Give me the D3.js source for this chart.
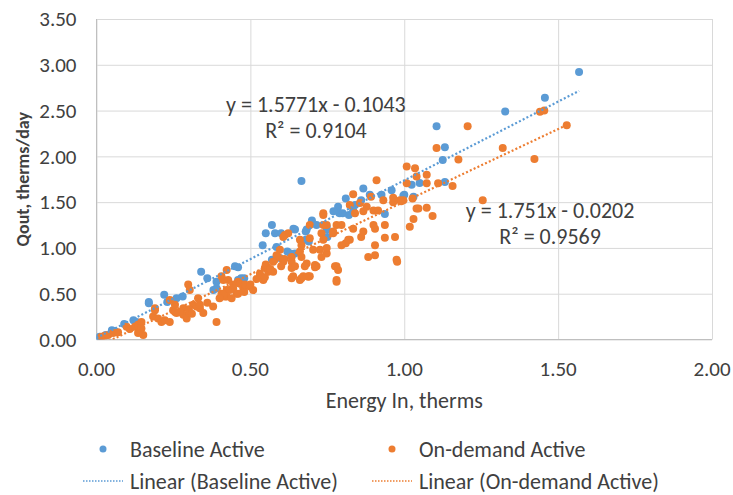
<!DOCTYPE html>
<html><head><meta charset="utf-8">
<script src="https://cdn.jsdelivr.net/npm/d3@7"></script>
<style>
html,body{margin:0;padding:0;background:#fff;}
svg text{font-family:"Carlito","Lato","Open Sans",sans-serif;fill:#404040;}
</style></head>
<body><svg id="c" width="733" height="495"></svg>
<script>
// ---- data ----
const xTicks = [0, 0.5, 1.0, 1.5, 2.0];
const yTicks = [0, 0.5, 1.0, 1.5, 2.0, 2.5, 3.0, 3.5];
const seriesNames = ["Baseline Active", "On-demand Active"];
const trendNames = ["Linear (Baseline Active)", "Linear (On-demand Active)"];
const baseline = [
[0.00,0.01],[0.01,0.03],[0.03,0.05],[0.05,0.10],[0.06,0.09],[0.09,0.17],[0.12,0.21],[0.13,0.19],
[0.17,0.41],[0.17,0.395],[0.22,0.49],[0.23,0.41],[0.26,0.45],[0.28,0.47],[0.34,0.74],[0.36,0.67],
[0.39,0.63],[0.38,0.54],[0.39,0.56],[0.45,0.80],[0.46,0.79],[0.46,0.65],[0.47,0.67],[0.48,0.67],
[0.54,1.03],[0.55,1.16],[0.57,1.25],[0.58,1.16],[0.585,1.01],[0.60,1.16],[0.57,0.87],[0.596,0.89],
[0.62,0.96],[0.64,1.21],[0.645,0.94],[0.645,1.20],[0.63,0.94],[0.68,1.18],[0.68,1.09],[0.69,1.07],
[0.683,1.20],[0.666,1.73],[0.70,1.30],[0.715,1.25],[0.75,1.12],[0.748,1.20],[0.748,1.23],[0.785,1.45],
[0.79,1.38],[0.80,1.38],[0.82,1.36],[0.81,1.54],[0.834,1.41],[0.77,1.40],[0.84,1.47],[0.86,1.52],
[0.867,1.65],[0.888,1.58],[0.926,1.58],[0.937,1.37],[0.959,1.63],[0.997,1.57],[1.03,1.56],[1.00,1.58],
[1.024,1.69],[1.05,1.71],[1.132,1.72],[1.125,1.96],[1.132,2.10],[1.105,2.33],[1.328,2.49],[1.457,2.64],
[1.568,2.92]
];
const ondemand = [
[0.016,0.03],[0.027,0.04],[0.038,0.05],[0.054,0.07],[0.07,0.08],[0.098,0.14],[0.108,0.115],[0.125,0.14],
[0.135,0.16],[0.141,0.10],[0.152,0.05],[0.146,0.19],[0.146,0.12],[0.135,0.07],[0.184,0.25],[0.19,0.32],
[0.19,0.34],[0.20,0.23],[0.211,0.19],[0.222,0.21],[0.238,0.19],[0.238,0.43],[0.249,0.32],[0.255,0.38],
[0.26,0.29],[0.255,0.30],[0.282,0.34],[0.282,0.27],[0.293,0.23],[0.303,0.29],[0.298,0.60],[0.303,0.54],
[0.314,0.38],[0.325,0.36],[0.336,0.34],[0.347,0.29],[0.336,0.38],[0.379,0.36],[0.39,0.19],[0.406,0.50],
[0.417,0.47],[0.423,0.54],[0.423,0.76],[0.428,0.65],[0.444,0.56],[0.455,0.50],[0.46,0.63],[0.477,0.56],
[0.412,0.65],[0.433,0.54],[0.444,0.60],[0.466,0.61],[0.482,0.60],[0.498,0.58],[0.509,0.54],[0.423,0.47],
[0.46,0.50],[0.412,0.49],[0.439,0.45],[0.406,0.69],[0.40,0.45],[0.36,0.40],[0.33,0.45],[0.30,0.33],
[0.27,0.30],[0.31,0.28],[0.50,0.60],[0.52,0.66],[0.48,0.52],
[0.531,0.70],[0.542,0.65],[0.547,0.78],[0.558,0.74],[0.574,0.74],[0.59,0.90],[0.596,0.98],[0.607,0.85],
[0.612,1.14],[0.623,1.16],[0.607,1.12],[0.634,0.85],[0.634,0.78],[0.634,0.67],[0.661,0.65],[0.661,1.09],
[0.666,1.03],[0.666,0.90],[0.683,0.83],[0.688,0.69],[0.693,1.25],[0.715,0.80],[0.737,1.36],[0.737,1.38],
[0.748,1.25],[0.726,0.98],[0.748,0.94],[0.769,1.16],[0.731,1.16],[0.78,0.80],[0.78,0.63],[0.81,1.05],
[0.823,1.09],[0.834,1.21],[0.531,0.72],[0.547,0.68],[0.553,0.795],[0.574,0.85],[0.585,0.92],[0.60,0.80],
[0.61,0.88],[0.55,0.82],[0.565,0.77],[0.666,0.67],[0.688,0.686],[0.693,1.105],[0.71,0.813],
[0.661,0.96],[0.634,0.90],[0.645,0.80],[0.677,0.80],[0.71,0.79],[0.672,0.69],[0.693,0.69],[0.639,0.69],
[0.775,0.80],[0.785,0.76],[0.78,0.65],[0.704,0.98],[0.731,0.90],[0.748,1.00],[0.737,1.09],[0.796,1.03],
[0.818,1.09],[0.737,1.25],[0.78,1.25],[0.796,1.25],[0.769,1.18],[0.86,1.12],[0.90,1.25],[0.905,1.21],
[0.937,1.25],[0.883,0.90],[0.905,0.92],[0.905,1.03],[0.975,0.87],[0.97,1.12],[0.937,1.11],[0.867,1.18],
[0.834,1.585],[0.823,1.47],[0.856,1.49],[0.878,1.45],[0.90,1.41],[0.915,1.41],[0.867,1.40],[0.84,1.38],
[0.964,1.50],[0.986,1.52],[1.04,1.43],[1.018,1.23],[0.91,1.74],[1.008,1.705],[1.008,1.89],[1.04,1.78],
[1.035,1.87],[1.073,1.80],[1.073,1.705],[1.11,1.705],[1.157,1.676],[0.997,1.52],[1.027,1.54],[1.046,1.43],
[1.073,1.44],[1.092,1.35],[1.03,1.315],[0.977,0.85],[1.176,1.967],[1.105,2.09],[1.206,2.33],
[1.255,1.52],[1.32,2.09],[1.423,1.97],[1.441,2.487],[1.455,2.50],[1.528,2.34],[0.932,1.52],[0.892,1.56],
[0.964,1.548],[0.99,1.51]
];
// trendlines as drawn (slope, intercept)
const trendBaseline = [1.72, 0.018];
const trendOndemand = [1.586, -0.081];
const eqBaseline = ["y = 1.5771x - 0.1043", "R² = 0.9104"];
const eqOndemand = ["y = 1.751x - 0.0202", "R² = 0.9569"];
const eqBaselinePos = [0.713, 2.484];
const eqOndemandPos = [1.474, 1.33];
const colors = ["#5B9BD5", "#ED7D31"];

// ---- drawing ----
const svg = d3.select("#c");
const L = 96.5, R = 712, T = 19, B = 339.5;
const x = d3.scaleLinear().domain([0, 2]).range([L, R]);
const y = d3.scaleLinear().domain([0, 3.5]).range([B, T]);
const FS = 22, TFS = 21;

svg.append("defs").append("clipPath").attr("id","pc")
  .append("rect").attr("x",L).attr("y",T).attr("width",R-L).attr("height",B-T);

// gridlines
svg.append("g").attr("transform",`translate(0,${B})`)
  .call(d3.axisBottom(x).tickValues(xTicks).tickSize(-(B-T)).tickFormat(""))
  .call(g=>g.select(".domain").remove())
  .call(g=>g.selectAll("line").attr("stroke","#D9D9D9"));
svg.append("g").attr("transform",`translate(${L},0)`)
  .call(d3.axisLeft(y).tickValues(yTicks).tickSize(-(R-L)).tickFormat(""))
  .call(g=>g.select(".domain").remove())
  .call(g=>g.selectAll("line").attr("stroke","#D9D9D9"));
// axis lines
svg.append("line").attr("x1",L).attr("x2",L).attr("y1",T).attr("y2",B).attr("stroke","#BFBFBF");
svg.append("line").attr("x1",L).attr("x2",R).attr("y1",B).attr("y2",B).attr("stroke","#BFBFBF");

// tick labels
svg.append("g").selectAll("text").data(yTicks).join("text")
  .attr("x", L-20).attr("y", d=>y(d)).attr("dy","0.35em")
  .attr("text-anchor","end").style("font-size",TFS+"px").text(d=>d3.format(".2f")(d));
svg.append("g").selectAll("text").data(xTicks).join("text")
  .attr("x", d=>x(d)).attr("y", B+36)
  .attr("text-anchor","middle").style("font-size",TFS+"px").text(d=>d3.format(".2f")(d));

// axis titles
svg.append("text").attr("x",(L+R)/2).attr("y",408).attr("text-anchor","middle")
  .style("font-size",FS+"px").text("Energy In, therms");
svg.append("text").attr("transform",`translate(29,${(T+B)/2}) rotate(-90)`)
  .attr("text-anchor","middle").style("font-size","18px").style("font-weight","bold")
  .text("Qout, therms/day");

// points
const plot = svg.append("g").attr("clip-path","url(#pc)");
[baseline, ondemand].forEach((data,i)=>{
  plot.append("g").selectAll("circle").data(data).join("circle")
    .attr("cx",d=>x(d[0])).attr("cy",d=>y(d[1])).attr("r",4)
    .attr("fill",colors[i]);
});
// trendlines
[[baseline,trendBaseline],[ondemand,trendOndemand]].forEach(([data,t],i)=>{
  const ext = d3.extent(data,d=>d[0]);
  plot.append("path")
    .attr("d", d3.line()(ext.map(v=>[x(v), y(t[0]*v+t[1])])))
    .attr("stroke",colors[i]).attr("stroke-width",2.2).attr("stroke-dasharray","2,2.2")
    .attr("fill","none");
});

// equations
[[eqBaseline,eqBaselinePos],[eqOndemand,eqOndemandPos]].forEach(([lines,p])=>{
  const t = svg.append("text").attr("text-anchor","middle").style("font-size",FS+"px");
  lines.forEach((s,j)=>t.append("tspan").attr("x",x(p[0])).attr("y",y(p[1])+j*26).text(s));
});

// legend
const legY1 = 449, legY2 = 481;
const legX = [103, 392];
seriesNames.forEach((n,i)=>{
  svg.append("circle").attr("cx",legX[i]).attr("cy",legY1).attr("r",3.5).attr("fill",colors[i]);
  svg.append("text").attr("x",legX[i]+27).attr("y",legY1).attr("dy","0.35em")
    .style("font-size",FS+"px").text(n);
});
trendNames.forEach((n,i)=>{
  svg.append("line").attr("x1",legX[i]-20).attr("x2",legX[i]+20).attr("y1",legY2).attr("y2",legY2)
    .attr("stroke",colors[i]).attr("stroke-width",1.5).attr("stroke-dasharray","1.5,1.5");
  svg.append("text").attr("x",legX[i]+27).attr("y",legY2).attr("dy","0.35em")
    .style("font-size",FS+"px").text(n);
});
</script></body></html>
